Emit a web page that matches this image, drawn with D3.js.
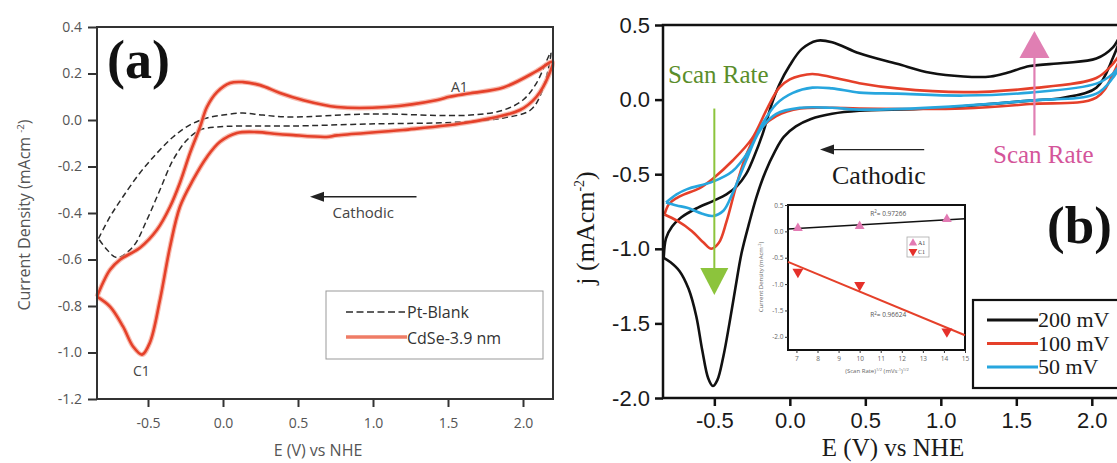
<!DOCTYPE html>
<html>
<head>
<meta charset="utf-8">
<script src="https://cdn.jsdelivr.net/npm/d3@7"></script>
<style>
  body { margin: 0; background: #fff; }
  svg { display: block; }
</style>
</head>
<body>
<svg id="fig" width="1117" height="463"></svg>
<script>
// ---------------- Panel (a): Pt blank vs CdSe 3.9 nm, E (V vs NHE), j (mA cm^-2) ----------------
const ptBlankUpper = [[-0.83,-0.51],[-0.753,-0.416],[-0.667,-0.33],[-0.553,-0.227],[-0.44,-0.142],[-0.333,-0.073],[-0.22,-0.021],[-0.107,0.009],[0,0.021],[0.133,0.03],[0.267,0.021],[0.447,0.013],[0.98,0.026],[1.65,0.021],[1.87,0.043],[2.0,0.086],[2.09,0.159],[2.185,0.29]];
const ptBlankLower = [[2.185,0.29],[2.13,0.129],[2.05,0.043],[1.87,0.009],[1.58,-0.009],[0.98,-0.017],[0.447,-0.026],[0.113,-0.026],[-0.04,-0.03],[-0.153,-0.043],[-0.24,-0.086],[-0.333,-0.172],[-0.42,-0.3],[-0.507,-0.429],[-0.6,-0.545],[-0.707,-0.592],[-0.773,-0.558],[-0.83,-0.51]];
const cdseUpper = [[-0.84,-0.76],[-0.80,-0.70],[-0.753,-0.644],[-0.687,-0.601],[-0.553,-0.549],[-0.44,-0.472],[-0.353,-0.373],[-0.287,-0.27],[-0.22,-0.142],[-0.153,-0.03],[-0.107,0.056],[-0.04,0.12],[0.047,0.159],[0.133,0.163],[0.247,0.15],[0.38,0.116],[0.53,0.086],[0.76,0.056],[1.09,0.056],[1.43,0.086],[1.51,0.1],[1.65,0.115],[1.87,0.14],[2.09,0.21],[2.195,0.25]];
const cdseLower = [[2.195,0.25],[2.17,0.19],[2.09,0.1],[1.98,0.043],[1.65,-0.009],[1.2,-0.043],[0.76,-0.066],[0.69,-0.073],[0.447,-0.064],[0.36,-0.06],[0.227,-0.052],[0.093,-0.056],[-0.02,-0.094],[-0.107,-0.159],[-0.2,-0.258],[-0.287,-0.373],[-0.353,-0.545],[-0.42,-0.773],[-0.487,-0.957],[-0.54,-1.009],[-0.6,-0.974],[-0.667,-0.888],[-0.753,-0.803],[-0.84,-0.76]];
const yTicksA = [0.4, 0.2, 0.0, -0.2, -0.4, -0.6, -0.8, -1.0, -1.2];
const xTicksA = [-0.5, 0.0, 0.5, 1.0, 1.5, 2.0];
const legendA = ["Pt-Blank", "CdSe-3.9 nm"];

// ---------------- Panel (b): scan-rate series ----------------
const scan200Upper = [[-0.835,-1.06],[-0.82,-0.93],[-0.78,-0.85],[-0.72,-0.79],[-0.62,-0.73],[-0.51,-0.68],[-0.42,-0.635],[-0.35,-0.58],[-0.29,-0.5],[-0.24,-0.39],[-0.18,-0.23],[-0.12,-0.03],[-0.07,0.1],[0,0.23],[0.08,0.34],[0.18,0.395],[0.28,0.385],[0.46,0.31],[0.71,0.24],[0.93,0.18],[1.15,0.155],[1.33,0.155],[1.44,0.18],[1.59,0.225],[1.81,0.245],[2.03,0.275],[2.14,0.35],[2.2,0.45]];
const scan200Lower = [[2.2,0.45],[2.14,0.28],[2.03,0.08],[1.81,0.013],[1.59,-0.007],[0.93,-0.06],[0.46,-0.075],[0.28,-0.095],[0.14,-0.13],[0.04,-0.18],[-0.04,-0.25],[-0.1,-0.35],[-0.16,-0.48],[-0.22,-0.65],[-0.27,-0.83],[-0.32,-1.03],[-0.36,-1.26],[-0.4,-1.5],[-0.44,-1.72],[-0.48,-1.88],[-0.51,-1.92],[-0.54,-1.87],[-0.58,-1.68],[-0.62,-1.45],[-0.67,-1.27],[-0.73,-1.15],[-0.79,-1.09],[-0.835,-1.06]];
const scan100Upper = [[-0.83,-0.77],[-0.8,-0.7],[-0.75,-0.66],[-0.7,-0.635],[-0.6,-0.595],[-0.51,-0.53],[-0.38,-0.41],[-0.25,-0.26],[-0.15,-0.06],[-0.07,0.08],[0,0.135],[0.07,0.16],[0.15,0.172],[0.28,0.15],[0.46,0.11],[0.71,0.075],[1.15,0.05],[1.59,0.075],[2.03,0.145],[2.14,0.24],[2.2,0.32]];
const scan100Lower = [[2.2,0.32],[2.14,0.17],[2.03,0.013],[1.59,-0.03],[1.15,-0.06],[0.46,-0.06],[0.28,-0.055],[0.07,-0.06],[-0.09,-0.11],[-0.2,-0.2],[-0.28,-0.35],[-0.35,-0.56],[-0.42,-0.82],[-0.47,-0.96],[-0.52,-1.0],[-0.57,-0.96],[-0.65,-0.88],[-0.75,-0.81],[-0.83,-0.77]];
const scan50Upper = [[-0.82,-0.69],[-0.75,-0.635],[-0.68,-0.6],[-0.51,-0.55],[-0.38,-0.48],[-0.27,-0.34],[-0.18,-0.16],[-0.09,-0.03],[0.02,0.045],[0.15,0.08],[0.28,0.075],[0.46,0.047],[0.71,0.04],[1.15,0.027],[1.59,0.047],[2.03,0.107],[2.14,0.174],[2.2,0.25]];
const scan50Lower = [[2.2,0.25],[2.14,0.147],[2.03,0.04],[1.59,-0.007],[0.93,-0.054],[0.46,-0.067],[0.28,-0.055],[0.07,-0.055],[-0.09,-0.095],[-0.2,-0.21],[-0.29,-0.41],[-0.38,-0.63],[-0.44,-0.745],[-0.51,-0.78],[-0.58,-0.765],[-0.68,-0.725],[-0.75,-0.71],[-0.82,-0.69]];
const yTicksB = [0.5, 0.0, -0.5, -1.0, -1.5, -2.0];
const xTicksB = [-0.5, 0.0, 0.5, 1.0, 1.5, 2.0];
const legendB = ["200 mV", "100 mV", "50 mV"];

// Inset: peak current vs sqrt(scan rate)
const sqrtScanRate = [7.07, 10, 14.14];
const peakA1 = [0.06, 0.1, 0.23];
const peakC1 = [-0.77, -1.02, -1.9];
const fitA1 = [[6.6, 0.045], [15, 0.24]];
const fitC1 = [[6.6, -0.58], [15, -1.97]];
const yTicksIn = [0.5, 0.0, -0.5, -1.0, -1.5, -2.0];
const xTicksIn = [7, 8, 9, 10, 11, 12, 13, 14, 15];

const svg = d3.select("#fig");
svg.append("rect").attr("width", 1117).attr("height", 463).attr("fill", "#fff");

const sans = "'Open Sans', 'Noto Sans', sans-serif";
const serif = "'Liberation Serif', 'DejaVu Serif', serif";
const arial = "'Liberation Sans', Arial, sans-serif";

function arrowHead(g, x, y, dir, len, half, color) {
  // dir: unit vector pointing where the tip faces
  const [dx, dy] = dir;
  const bx = x - dx * len, by = y - dy * len;
  const px = -dy * half, py = dx * half;
  g.append("path")
    .attr("d", `M${x},${y}L${bx + px},${by + py}L${bx - px},${by - py}Z`)
    .attr("fill", color);
}

// ================= Panel (a) =================
const xA = d3.scaleLinear().domain([-0.84, 2.2]).range([97, 553]);
const yA = d3.scaleLinear().domain([-1.2, 0.4]).range([399, 27]);
const gA = svg.append("g");
const lineA = d3.line().x(d => xA(d[0])).y(d => yA(d[1])).curve(d3.curveCatmullRom.alpha(0.5));

gA.append("path").datum(ptBlankUpper.concat(ptBlankLower.slice(1)))
  .attr("d", lineA).attr("fill", "none").attr("stroke", "#2b2b2b")
  .attr("stroke-width", 1.5).attr("stroke-dasharray", "6,3.5");

const cdseLoop = cdseUpper.concat(cdseLower.slice(1));
gA.append("path").datum(cdseLoop).attr("d", lineA).attr("fill", "none")
  .attr("stroke", "#f4a08e").attr("stroke-width", 5).attr("stroke-linejoin", "round").attr("opacity", 0.7);
gA.append("path").datum(cdseLoop).attr("d", lineA).attr("fill", "none")
  .attr("stroke", "#e5412a").attr("stroke-width", 2.6).attr("stroke-linejoin", "round");

// frame
gA.append("rect").attr("x", xA.range()[0]).attr("y", yA.range()[1])
  .attr("width", xA.range()[1] - xA.range()[0]).attr("height", yA.range()[0] - yA.range()[1])
  .attr("fill", "none").attr("stroke", "#333").attr("stroke-width", 2);

const axYA = gA.append("g").attr("transform", `translate(${xA.range()[0]},0)`)
  .call(d3.axisLeft(yA).tickValues(yTicksA).tickFormat(d => d.toFixed(1)).tickSize(9).tickSizeOuter(0).tickPadding(6));
const axXA = gA.append("g").attr("transform", `translate(0,${yA.range()[0]})`)
  .call(d3.axisBottom(xA).tickValues(xTicksA).tickFormat(d => d.toFixed(1)).tickSize(8).tickSizeOuter(0).tickPadding(11));
[axYA, axXA].forEach(ax => {
  ax.select(".domain").remove();
  ax.selectAll(".tick line").attr("stroke", "#333").attr("stroke-width", 2);
  ax.selectAll(".tick text").attr("font-family", sans).attr("font-size", 14).attr("fill", "#555");
});

gA.append("text").attr("transform", "translate(30,215) rotate(-90)").attr("text-anchor", "middle")
  .attr("font-family", sans).attr("font-size", 16).attr("fill", "#555")
  .call(t => {
    t.append("tspan").text("Current Density (mAcm ");
    t.append("tspan").attr("font-size", 9.5).attr("dy", -6).text("-2");
    t.append("tspan").attr("dy", 6).text(")");
  });
gA.append("text").attr("x", 318).attr("y", 456).attr("text-anchor", "middle")
  .attr("font-family", sans).attr("font-size", 16).attr("fill", "#555").text("E (V) vs NHE");

gA.append("text").attr("x", 107).attr("y", 78).attr("font-family", serif).attr("font-weight", "bold")
  .attr("font-size", 54).attr("fill", "#111").text("(a)");
gA.append("text").attr("x", xA(1.52)).attr("y", yA(0.12)).attr("font-family", sans).attr("font-size", 14)
  .attr("fill", "#444").text("A1");
gA.append("text").attr("x", xA(-0.6)).attr("y", yA(-1.10)).attr("font-family", sans).attr("font-size", 14)
  .attr("fill", "#444").text("C1");

// cathodic sweep arrow
const caA = gA.append("g");
caA.append("line").attr("x1", xA(1.29)).attr("x2", xA(0.62)).attr("y1", yA(-0.33)).attr("y2", yA(-0.33))
  .attr("stroke", "#222").attr("stroke-width", 1.4);
arrowHead(caA, xA(0.58), yA(-0.33), [-1, 0], 14, 5, "#222");
caA.append("text").attr("x", xA(0.73)).attr("y", yA(-0.42)).attr("font-family", sans).attr("font-size", 15)
  .attr("fill", "#444").text("Cathodic");

// legend (a)
const lgA = gA.append("g");
lgA.append("rect").attr("x", 326).attr("y", 291).attr("width", 217).attr("height", 68)
  .attr("fill", "#fff").attr("stroke", "#999").attr("stroke-width", 1);
lgA.append("line").attr("x1", 346).attr("x2", 405).attr("y1", 312).attr("y2", 312)
  .attr("stroke", "#2b2b2b").attr("stroke-width", 1.5).attr("stroke-dasharray", "7,3.5");
lgA.append("line").attr("x1", 346).attr("x2", 407).attr("y1", 337).attr("y2", 337)
  .attr("stroke", "#ef7c66").attr("stroke-width", 3.5);
legendA.forEach((s, i) => {
  lgA.append("text").attr("x", 407).attr("y", 318 + i * 26).attr("font-family", sans)
    .attr("font-size", 16).attr("fill", "#333").text(s);
});

// ================= Panel (b) =================
const xB = d3.scaleLinear().domain([-0.84, 2.2]).range([663, 1122]);
const yB = d3.scaleLinear().domain([-2.0, 0.5]).range([398, 25]);
const gB = svg.append("g");
const lineB = d3.line().x(d => xB(d[0])).y(d => yB(d[1])).curve(d3.curveCatmullRom.alpha(0.5));

const seriesB = [
  { up: scan200Upper, down: scan200Lower, color: "#111111" },
  { up: scan100Upper, down: scan100Lower, color: "#e5402a" },
  { up: scan50Upper, down: scan50Lower, color: "#27a6de" }
];
seriesB.forEach(s => {
  gB.append("path").datum(s.up.concat(s.down.slice(1))).attr("d", lineB)
    .attr("fill", "none").attr("stroke", s.color).attr("stroke-width", 2.6).attr("stroke-linejoin", "round");
});

gB.append("rect").attr("x", xB.range()[0]).attr("y", yB.range()[1])
  .attr("width", xB.range()[1] - xB.range()[0]).attr("height", yB.range()[0] - yB.range()[1])
  .attr("fill", "none").attr("stroke", "#111").attr("stroke-width", 2.5);

const axYB = gB.append("g").attr("transform", `translate(${xB.range()[0]},0)`)
  .call(d3.axisLeft(yB).tickValues(yTicksB).tickFormat(d => d.toFixed(1)).tickSize(8).tickSizeOuter(0).tickPadding(5));
const axXB = gB.append("g").attr("transform", `translate(0,${yB.range()[0]})`)
  .call(d3.axisBottom(xB).tickValues(xTicksB).tickFormat(d => d.toFixed(1)).tickSize(8).tickSizeOuter(0).tickPadding(6));
[axYB, axXB].forEach(ax => {
  ax.select(".domain").remove();
  ax.selectAll(".tick line").attr("stroke", "#111").attr("stroke-width", 2.5);
  ax.selectAll(".tick text").attr("font-family", arial).attr("font-size", 22).attr("fill", "#1a1a1a");
});

gB.append("text").attr("transform", "translate(594,228) rotate(-90)").attr("text-anchor", "middle")
  .attr("font-family", serif).attr("font-size", 26).attr("fill", "#1a1a1a")
  .call(t => {
    t.append("tspan").text("j (mAcm");
    t.append("tspan").attr("font-size", 14).attr("dy", -10).text("-2");
    t.append("tspan").attr("dy", 10).text(")");
  });
gB.append("text").attr("x", 893).attr("y", 456).attr("text-anchor", "middle")
  .attr("font-family", serif).attr("font-size", 25).attr("fill", "#1a1a1a").text("E (V) vs NHE");

// scan-rate arrows
const green = gB.append("g");
green.append("line").attr("x1", xB(-0.5)).attr("x2", xB(-0.5)).attr("y1", yB(-0.06)).attr("y2", yB(-1.15))
  .attr("stroke", "#8cc43c").attr("stroke-width", 2);
arrowHead(green, xB(-0.5), yB(-1.31), [0, 1], 27, 14, "#8cc43c");
green.append("text").attr("x", 668).attr("y", 83).attr("font-family", serif).attr("font-size", 25)
  .attr("fill", "#5a8d2a").text("Scan Rate");

const pink = gB.append("g");
pink.append("line").attr("x1", xB(1.62)).attr("x2", xB(1.62)).attr("y1", yB(-0.24)).attr("y2", yB(0.32))
  .attr("stroke", "#e07fb3").attr("stroke-width", 2.2);
arrowHead(pink, xB(1.62), yB(0.46), [0, -1], 27, 15, "#e07fb3");
pink.append("text").attr("x", 993).attr("y", 163).attr("font-family", serif).attr("font-size", 25)
  .attr("fill", "#d4559a").text("Scan Rate");

// cathodic sweep arrow
const caB = gB.append("g");
caB.append("line").attr("x1", xB(0.89)).attr("x2", xB(0.24)).attr("y1", yB(-0.335)).attr("y2", yB(-0.335))
  .attr("stroke", "#222").attr("stroke-width", 1.4);
arrowHead(caB, xB(0.2), yB(-0.335), [-1, 0], 14, 5, "#222");
caB.append("text").attr("x", 832).attr("y", 184).attr("font-family", serif).attr("font-size", 26)
  .attr("fill", "#1a1a1a").text("Cathodic");

gB.append("text").attr("x", 1047).attr("y", 243).attr("font-family", serif).attr("font-weight", "bold")
  .attr("font-size", 53).attr("fill", "#111").text("(b)");

// legend (b)
const lgB = gB.append("g");
lgB.append("rect").attr("x", 973).attr("y", 300).attr("width", 160).attr("height", 88)
  .attr("fill", "#fff").attr("stroke", "#111").attr("stroke-width", 2.2);
legendB.forEach((s, i) => {
  lgB.append("line").attr("x1", 987).attr("x2", 1038).attr("y1", 320 + i * 23.5).attr("y2", 320 + i * 23.5)
    .attr("stroke", seriesB[i].color).attr("stroke-width", 3);
  lgB.append("text").attr("x", 1038).attr("y", 327 + i * 23.5).attr("font-family", serif)
    .attr("font-size", 22).attr("fill", "#1a1a1a").text(s);
});

// ---------- inset ----------
const xI = d3.scaleLinear().domain([6.6, 15]).range([788, 965]);
const yI = d3.scaleLinear().domain([-2.25, 0.5]).range([350, 205]);
const gI = svg.append("g");
gI.append("rect").attr("x", xI.range()[0]).attr("y", yI.range()[1])
  .attr("width", xI.range()[1] - xI.range()[0]).attr("height", yI.range()[0] - yI.range()[1])
  .attr("fill", "#fff").attr("stroke", "#111").attr("stroke-width", 2);
const lineI = d3.line().x(d => xI(d[0])).y(d => yI(d[1]));
gI.append("path").datum(fitA1).attr("d", lineI).attr("stroke", "#111").attr("stroke-width", 1.6).attr("fill", "none");
gI.append("path").datum(fitC1).attr("d", lineI).attr("stroke", "#e5402a").attr("stroke-width", 2).attr("fill", "none");

const triUp = d3.symbol().type(d3.symbolTriangle).size(42);
const triDown = d3.symbol().type(d3.symbolTriangle).size(52);
sqrtScanRate.forEach((v, i) => {
  gI.append("path").attr("d", triUp()).attr("fill", "#e27ab3")
    .attr("transform", `translate(${xI(v)},${yI(peakA1[i])})`);
  gI.append("path").attr("d", triDown()).attr("fill", "#e5302a")
    .attr("transform", `translate(${xI(v)},${yI(peakC1[i])}) rotate(180)`);
});

const axYI = gI.append("g").attr("transform", `translate(${xI.range()[0]},0)`)
  .call(d3.axisLeft(yI).tickValues(yTicksIn).tickFormat(d => d.toFixed(1)).tickSize(3).tickSizeOuter(0).tickPadding(1.5));
const axXI = gI.append("g").attr("transform", `translate(0,${yI.range()[0]})`)
  .call(d3.axisBottom(xI).tickValues(xTicksIn).tickFormat(d3.format("d")).tickSize(3).tickSizeOuter(0).tickPadding(3));
[axYI, axXI].forEach(ax => {
  ax.select(".domain").remove();
  ax.selectAll(".tick line").attr("stroke", "#333").attr("stroke-width", 1);
  ax.selectAll(".tick text").attr("font-family", sans).attr("font-size", 6.5).attr("fill", "#666");
});
gI.append("text").attr("transform", "translate(763,277) rotate(-90)").attr("text-anchor", "middle")
  .attr("font-family", sans).attr("font-size", 6).attr("fill", "#666")
  .call(t => {
    t.append("tspan").text("Current Density (mAcm");
    t.append("tspan").attr("font-size", 4).attr("dy", -2.5).text("-2");
    t.append("tspan").attr("dy", 2.5).text(")");
  });
gI.append("text").attr("x", 877).attr("y", 373).attr("text-anchor", "middle")
  .attr("font-family", sans).attr("font-size", 6).attr("fill", "#666")
  .call(t => {
    t.append("tspan").text("(Scan Rate)");
    t.append("tspan").attr("font-size", 4).attr("dy", -2.5).text("1/2");
    t.append("tspan").attr("dy", 2.5).text(" (mVs");
    t.append("tspan").attr("font-size", 4).attr("dy", -2.5).text("-1");
    t.append("tspan").attr("dy", 2.5).text(")");
    t.append("tspan").attr("font-size", 4).attr("dy", -2.5).text("1/2");
  });
const r2 = (x, y, val) => gI.append("text").attr("x", x).attr("y", y).attr("font-family", sans)
  .attr("font-size", 6.5).attr("fill", "#555")
  .call(t => {
    t.append("tspan").text("R");
    t.append("tspan").attr("font-size", 4.5).attr("dy", -2.5).text("2");
    t.append("tspan").attr("dy", 2.5).text("= " + val);
  });
r2(xI(10.5), yI(0.3), "0.97266");
r2(xI(10.5), yI(-1.63), "0.96624");

// inset legend
const lgI = gI.append("g");
lgI.append("rect").attr("x", 907).attr("y", 237).attr("width", 22).attr("height", 20)
  .attr("fill", "#fff").attr("stroke", "#aaa").attr("stroke-width", 0.8);
lgI.append("path").attr("d", d3.symbol().type(d3.symbolTriangle).size(30)()).attr("fill", "#e27ab3")
  .attr("transform", "translate(913,243)");
lgI.append("path").attr("d", d3.symbol().type(d3.symbolTriangle).size(34)()).attr("fill", "#e5302a")
  .attr("transform", "translate(913,251.5) rotate(180)");
lgI.append("text").attr("x", 918).attr("y", 245).attr("font-family", serif).attr("font-size", 6).attr("fill", "#444").text("A1");
lgI.append("text").attr("x", 918).attr("y", 254).attr("font-family", serif).attr("font-size", 6).attr("fill", "#444").text("C1");
</script>
</body>
</html>
